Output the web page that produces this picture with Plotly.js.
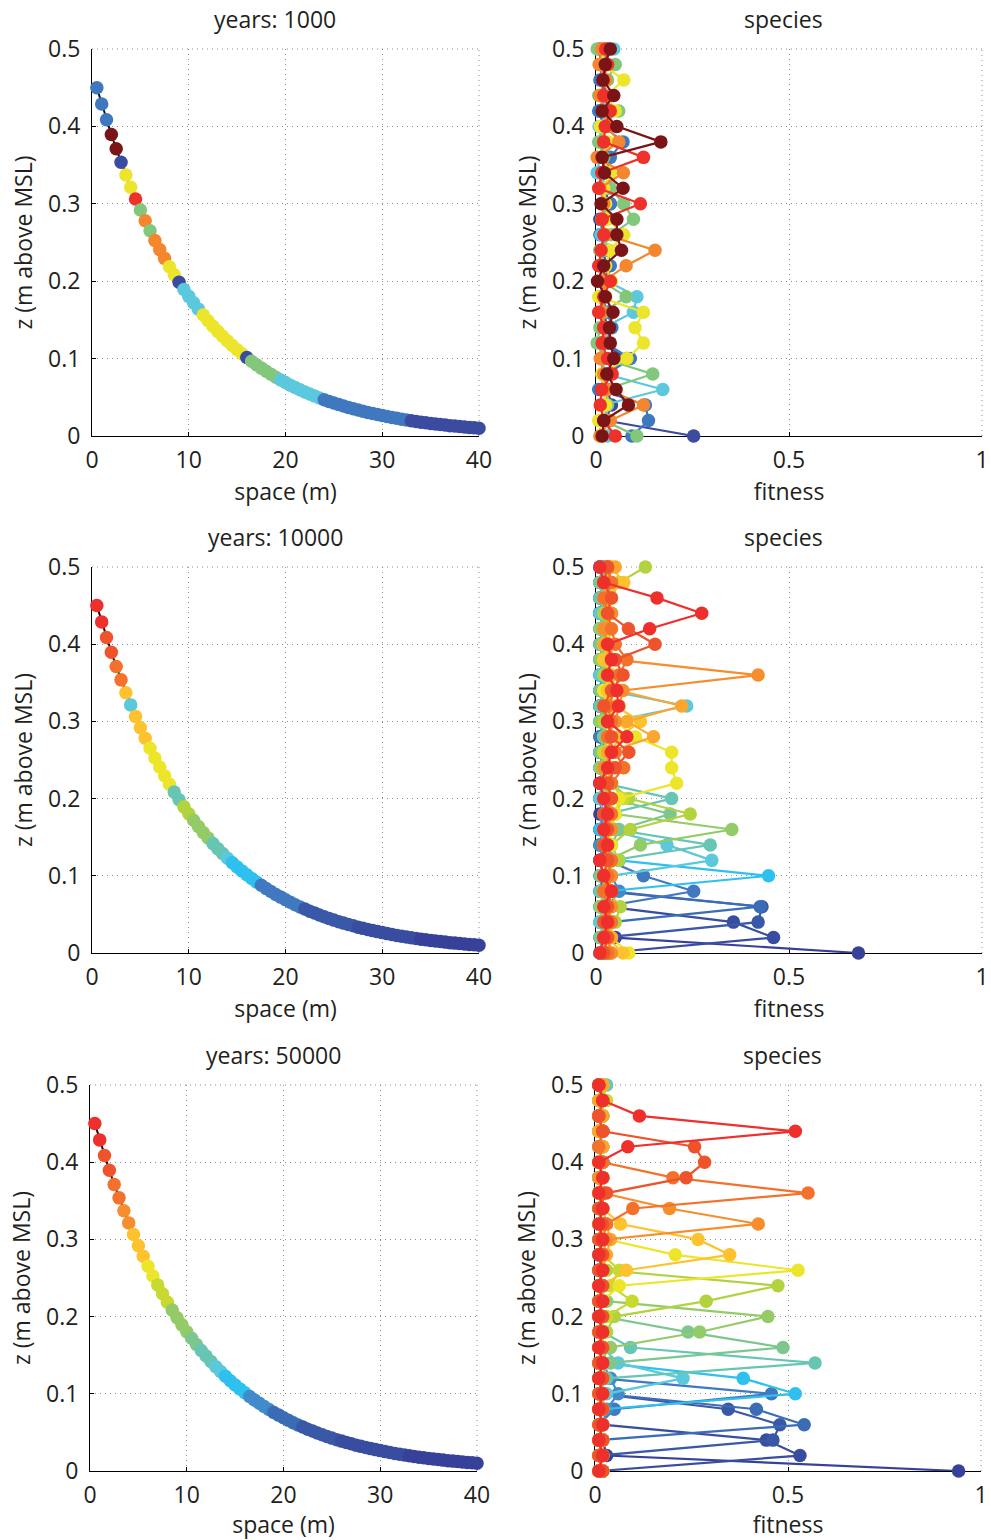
<!DOCTYPE html>
<html>
<head>
<meta charset="utf-8">
<script src="https://cdn.plot.ly/plotly-3.0.1.min.js"></script>
<style>html,body{margin:0;padding:0;background:#fff}#chart{width:991px;height:1540px}</style>
</head>
<body>
<div id="chart"></div>
<script>
// ---------- data ----------
const zLevels = [0,0.02,0.04,0.06,0.08,0.1,0.12,0.14,0.16,0.18,0.2,0.22,0.24,0.26,0.28,0.3,0.32,0.34,0.36,0.38,0.4,0.42,0.44,0.46,0.48,0.5];

const space = [0.5,1,1.5,2,2.5,3,3.5,4,4.5,5,5.5,6,6.5,7,7.5,8,8.5,9,9.5,10,
10.5,11,11.5,12,12.5,13,13.5,14,14.5,15,15.5,16,16.5,17,17.5,18,18.5,19,19.5,20,
20.5,21,21.5,22,22.5,23,23.5,24,24.5,25,25.5,26,26.5,27,27.5,28,28.5,29,29.5,30,
30.5,31,31.5,32,32.5,33,33.5,34,34.5,35,35.5,36,36.5,37,37.5,38,38.5,39,39.5,40];

const elevation = [0.4500,0.4289,0.4087,0.3895,0.3712,0.3538,0.3372,0.3214,0.3063,0.2919,
0.2782,0.2651,0.2527,0.2408,0.2295,0.2187,0.2084,0.1986,0.1893,0.1804,
0.1720,0.1639,0.1562,0.1489,0.1419,0.1352,0.1289,0.1228,0.1170,0.1115,
0.1063,0.1013,0.0966,0.0920,0.0877,0.0836,0.0797,0.0759,0.0724,0.0690,
0.0657,0.0626,0.0597,0.0569,0.0542,0.0517,0.0492,0.0469,0.0447,0.0426,
0.0406,0.0387,0.0369,0.0352,0.0335,0.0319,0.0304,0.0290,0.0277,0.0264,
0.0251,0.0239,0.0228,0.0217,0.0207,0.0198,0.0188,0.0179,0.0171,0.0163,
0.0155,0.0148,0.0141,0.0134,0.0128,0.0122,0.0116,0.0111,0.0106,0.0101];

const years = ['1000','10000','50000'];

// dominant species along the transect (index into palette)
const domSpecies1000 = [1,1,1,7,7,0,4,4,6,3,5,3,5,5,5,4,4,0,2,2,2,2,4,4,4,4,4,4,4,4,4,0,3,3,3,3,3,3,
2,2,2,2,2,2,2,2,2,1,1,1,1,1,1,1,1,1,1,1,1,1,1,1,1,1,1,0,0,0,0,0,0,0,0,0,0,0,0,0,0,0];
const domSpecies10000 = [19,19,18,18,17,17,14,7,14,14,14,13,13,13,13,13,8,8,11,11,10,10,10,10,8,8,8,7,
6,6,6,6,6,6,4,4,4,4,4,4,4,4,4,2,2,2,2,2,2,2,2,2,2,2,1,1,1,1,1,1,1,1,1,1,1,1,1,0,0,0,0,0,0,0,0,0,0,0,0,0];
const domSpecies50000 = [19,19,18,18,17,17,16,16,14,14,14,13,13,12,12,12,10,10,10,10,9,9,8,8,8,7,7,
6,6,6,6,6,5,5,5,5,5,3,3,3,3,3,3,2,2,2,2,2,2,2,2,1,1,1,1,1,1,1,1,1,1,1,1,1,1,0,0,0,0,0,0,0,0,0,0,0,0,0,0,0];

const colors8 = ['#3A4BA0','#3F78BF','#5BC8DD','#83C77D','#EDE52B','#F4862E','#EE3129','#7B1416'];
const colors20 = ['#37419A','#394DA0','#3A58A8','#3B6CB6','#4079C0','#418BCB','#2EC0EE','#5BC8DC','#67C6B3','#7DC78F',
'#93CB69','#B3D23F','#C8D92F','#EDE52A','#FDC22D','#FBA72E','#F68E2D','#F3712B','#EF532B','#EE2F2C'];

// fitness of each species at each elevation level (rows = species, columns = zLevels)
const fitness1000 = [
[.253,.025,.040,.030,.020,.080,.015,.030,.020,.010,.037,.030,.015,.020,.010,.037,.020,.010,.030,.015,.025,.010,.020,.015,.012,.010],
[.093,.136,.128,.007,.030,.089,.025,.041,.030,.015,.020,.037,.030,.010,.020,.037,.012,.025,.037,.070,.020,.007,.035,.010,.020,.030],
[.030,.035,.020,.173,.025,.015,.030,.020,.097,.106,.030,.010,.020,.013,.025,.015,.030,.003,.010,.020,.008,.030,.012,.020,.010,.046],
[.106,.020,.030,.025,.147,.020,.003,.010,.020,.078,.015,.020,.010,.040,.097,.072,.037,.030,.020,.007,.015,.059,.007,.030,.050,.003],
[.015,.007,.025,.020,.015,.080,.123,.101,.123,.007,.040,.025,.037,.072,.030,.025,.020,.037,.015,.030,.011,.050,.028,.072,.016,.020],
[.010,.037,.123,.030,.020,.011,.020,.025,.015,.025,.020,.078,.153,.025,.015,.020,.010,.071,.003,.059,.030,.020,.010,.025,.008,.015],
[.050,.020,.011,.015,.042,.030,.016,.020,.007,.020,.037,.007,.013,.020,.016,.115,.007,.015,.123,.020,.024,.037,.020,.018,.030,.025],
[.016,.020,.084,.052,.028,.046,.037,.035,.044,.024,.004,.020,.066,.054,.054,.013,.070,.022,.016,.168,.054,.016,.046,.018,.024,.037]
];

const fitness10000 = [
[.68,.05,.02,.01,.03,.02,.01,.02,.03,.01,.02,.01,.03,.02,.01,.02,.03,.01,.02,.01,.02,.03,.01,.02,.01,.02],
[.02,.46,.356,.03,.01,.02,.03,.01,.02,.02,.01,.03,.02,.01,.02,.03,.01,.02,.01,.03,.02,.01,.02,.03,.02,.01],
[.03,.02,.42,.43,.02,.01,.02,.03,.01,.02,.03,.02,.01,.02,.03,.01,.02,.03,.02,.01,.02,.03,.01,.02,.03,.01],
[.01,.03,.04,.425,.04,.02,.01,.02,.03,.02,.01,.02,.03,.01,.02,.02,.03,.01,.02,.03,.01,.02,.02,.01,.03,.02],
[.02,.01,.03,.02,.253,.123,.03,.02,.01,.02,.03,.01,.02,.03,.01,.02,.01,.03,.02,.01,.03,.02,.01,.02,.01,.03],
[.03,.02,.01,.03,.06,.04,.02,.01,.03,.02,.01,.03,.02,.01,.03,.02,.01,.02,.03,.02,.01,.02,.03,.01,.02,.02],
[.01,.02,.03,.01,.03,.447,.06,.02,.01,.03,.02,.02,.01,.03,.02,.01,.03,.02,.01,.02,.03,.01,.02,.03,.02,.01],
[.02,.03,.01,.02,.02,.04,.30,.184,.03,.02,.01,.03,.02,.02,.03,.04,.235,.03,.01,.02,.02,.03,.01,.02,.01,.03],
[.01,.02,.02,.03,.01,.03,.04,.296,.05,.03,.196,.02,.01,.03,.02,.02,.01,.03,.02,.01,.03,.02,.02,.01,.03,.02],
[.03,.01,.02,.02,.03,.01,.02,.04,.06,.192,.04,.02,.03,.01,.02,.03,.02,.01,.03,.02,.01,.02,.03,.02,.01,.02],
[.02,.03,.02,.01,.02,.03,.03,.115,.352,.05,.03,.02,.01,.02,.03,.01,.02,.02,.03,.01,.02,.01,.02,.03,.02,.03],
[.04,.03,.05,.063,.03,.02,.059,.04,.089,.244,.085,.04,.03,.02,.03,.02,.03,.04,.02,.03,.02,.03,.02,.04,.06,.128],
[.03,.02,.04,.03,.02,.04,.03,.02,.04,.05,.07,.04,.03,.02,.03,.04,.02,.03,.04,.02,.03,.02,.04,.03,.02,.04],
[.085,.04,.03,.02,.04,.03,.02,.04,.03,.05,.06,.209,.196,.196,.102,.05,.03,.02,.04,.03,.02,.04,.03,.02,.04,.03],
[.07,.03,.02,.04,.03,.02,.04,.03,.02,.03,.04,.03,.02,.04,.06,.115,.05,.03,.04,.02,.03,.04,.03,.02,.072,.04],
[.03,.04,.03,.02,.04,.03,.04,.02,.03,.04,.02,.03,.04,.03,.149,.08,.222,.06,.03,.04,.02,.03,.04,.03,.02,.05],
[.04,.03,.02,.04,.03,.04,.03,.02,.04,.03,.04,.03,.02,.04,.03,.05,.06,.07,.42,.05,.03,.02,.04,.03,.04,.03],
[.03,.02,.04,.03,.02,.03,.04,.03,.02,.04,.03,.04,.072,.05,.03,.04,.03,.05,.06,.08,.05,.04,.03,.02,.04,.03],
[.02,.03,.02,.03,.04,.02,.03,.02,.03,.02,.04,.03,.05,.085,.04,.03,.02,.04,.07,.05,.153,.084,.03,.04,.02,.03],
[.01,.02,.03,.02,.04,.02,.01,.03,.02,.03,.02,.01,.03,.04,.08,.03,.058,.054,.03,.04,.03,.139,.274,.158,.02,.01]
];

const fitness50000 = [
[.942,.03,.02,.01,.02,.01,.02,.01,.02,.01,.02,.01,.02,.01,.02,.01,.02,.01,.02,.01,.02,.01,.02,.01,.02,.01],
[.01,.531,.444,.02,.01,.02,.01,.02,.01,.02,.01,.02,.01,.02,.01,.02,.01,.02,.01,.02,.01,.02,.01,.02,.01,.02],
[.02,.01,.461,.479,.345,.01,.02,.01,.02,.01,.02,.01,.02,.01,.02,.01,.02,.01,.02,.01,.02,.01,.02,.01,.02,.01],
[.01,.02,.01,.542,.418,.02,.01,.02,.01,.02,.01,.02,.01,.02,.01,.02,.01,.02,.01,.02,.01,.02,.01,.02,.01,.02],
[.02,.01,.02,.01,.05,.457,.02,.01,.02,.01,.02,.01,.02,.01,.02,.01,.02,.01,.02,.01,.02,.01,.02,.01,.02,.01],
[.01,.02,.01,.02,.03,.06,.04,.02,.01,.02,.01,.02,.01,.02,.01,.02,.01,.02,.01,.02,.01,.02,.01,.02,.01,.02],
[.02,.01,.02,.01,.02,.519,.384,.02,.01,.02,.01,.02,.01,.02,.01,.02,.01,.02,.01,.02,.01,.02,.01,.02,.01,.02],
[.01,.02,.01,.02,.01,.03,.228,.06,.02,.01,.02,.01,.02,.01,.02,.01,.02,.01,.02,.01,.02,.01,.02,.01,.02,.01],
[.02,.01,.02,.01,.02,.01,.03,.570,.092,.02,.01,.02,.01,.02,.01,.02,.01,.02,.01,.02,.01,.02,.01,.02,.01,.03],
[.01,.02,.01,.02,.01,.02,.01,.04,.487,.241,.02,.01,.02,.01,.02,.01,.02,.01,.02,.01,.02,.01,.02,.01,.02,.01],
[.02,.01,.02,.01,.02,.01,.02,.01,.04,.271,.448,.03,.01,.02,.01,.02,.01,.02,.01,.02,.01,.02,.01,.02,.01,.02],
[.01,.02,.01,.02,.01,.02,.01,.02,.01,.03,.05,.288,.474,.03,.01,.02,.01,.02,.01,.02,.01,.02,.01,.02,.01,.02],
[.02,.01,.02,.01,.02,.01,.02,.01,.02,.01,.03,.096,.04,.063,.02,.01,.02,.01,.02,.01,.02,.01,.02,.01,.03,.02],
[.01,.02,.01,.02,.01,.02,.01,.02,.01,.02,.01,.02,.063,.526,.208,.03,.01,.02,.01,.02,.01,.02,.01,.02,.01,.02],
[.02,.01,.02,.01,.02,.01,.02,.01,.02,.01,.02,.01,.02,.081,.349,.267,.066,.02,.01,.02,.01,.02,.01,.02,.01,.02],
[.01,.02,.01,.02,.01,.02,.01,.02,.01,.02,.01,.02,.01,.02,.03,.04,.03,.02,.01,.02,.01,.02,.01,.02,.01,.02],
[.02,.01,.02,.01,.02,.01,.02,.01,.02,.01,.02,.01,.02,.01,.02,.03,.423,.193,.02,.01,.02,.01,.02,.01,.02,.01],
[.01,.02,.01,.02,.01,.02,.01,.02,.01,.02,.01,.02,.01,.02,.01,.02,.03,.098,.552,.202,.02,.01,.02,.01,.02,.01],
[.02,.01,.02,.01,.02,.01,.02,.01,.02,.01,.02,.01,.02,.01,.02,.01,.02,.01,.03,.236,.284,.258,.02,.01,.02,.01],
[.01,.02,.01,.02,.01,.02,.01,.02,.01,.02,.01,.02,.01,.02,.01,.02,.01,.02,.01,.02,.01,.085,.519,.115,.02,.01]
];

// ---------- figure ----------
const W = 991, H = 1540;
const FONT = 'Open Sans, Lato, sans-serif';
const FS = 23;
const TXT = '#231F20';
const GRID = '#8c8c8c';
const GDASH = '1px,4px';
// plot boxes in pixels [left, right, top, bottom]
const boxes = [
  {L:[92,479], R:[596,982], T:49,  B:436},
  {L:[92,479], R:[596,982], T:567, B:953},
  {L:[90,477], R:[595,981], T:1085,B:1471}
];
const domSpecies = [domSpecies1000, domSpecies10000, domSpecies50000];
const fitness = [fitness1000, fitness10000, fitness50000];
const palettes = [colors8, colors20, colors20];

const traces = [];
const layout = {
  width: W, height: H, margin:{l:0,r:0,t:0,b:0},
  paper_bgcolor:'#fff', plot_bgcolor:'rgba(0,0,0,0)', showlegend:false,
  font:{family:FONT, size:FS, color:TXT},
  annotations: [], shapes: []
};

function axisCommon(){
  return {
    showline:true, linecolor:'#000', linewidth:1, mirror:false,
    ticks:'inside', ticklen:4, tickcolor:'#000', tickwidth:1,
    showgrid:true, gridcolor:GRID, gridwidth:1, griddash:GDASH,
    zeroline:false, automargin:false, fixedrange:true, layer:'below traces',
    ticklabeloverflow:'allow', ticklabelstandoff:3,
    tickfont:{family:FONT, size:FS, color:TXT}
  };
}

for (let r = 0; r < 3; r++) {
  const b = boxes[r];
  const pal = palettes[r];
  const xl = 'x' + (2*r+1), yl = 'y' + (2*r+1);
  const xr = 'x' + (2*r+2), yr = 'y' + (2*r+2);
  const ydom = [1 - b.B/H, 1 - b.T/H];

  // left: profile
  traces.push({x: space, y: elevation, xaxis:xl, yaxis:yl, mode:'lines',
    line:{color:'#111', width:2}, hoverinfo:'skip', cliponaxis:false});
  traces.push({x: space, y: elevation, xaxis:xl, yaxis:yl, mode:'markers',
    marker:{size:13.5, color: domSpecies[r].map(i => pal[i]), line:{width:0}}, cliponaxis:false});

  // right: species fitness
  fitness[r].forEach((f, s) => {
    traces.push({x: f, y: zLevels, xaxis:xr, yaxis:yr, mode:'lines+markers',
      line:{color:pal[s], width:2.2}, marker:{size:13.5, color:pal[s], line:{width:0}}, cliponaxis:false});
  });

  const kx = 'xaxis' + (2*r+1), ky = 'yaxis' + (2*r+1);
  const kx2 = 'xaxis' + (2*r+2), ky2 = 'yaxis' + (2*r+2);
  layout[kx] = Object.assign(axisCommon(), {domain:[b.L[0]/W, b.L[1]/W], anchor:yl, range:[0,40],
    tickvals:[0,10,20,30,40], ticktext:['0','10','20','30','40'],
    title:{text:'space (m)', standoff:0, font:{size:FS}}});
  layout[ky] = Object.assign(axisCommon(), {domain:ydom, anchor:xl, range:[0,0.5],
    tickvals:[0,0.1,0.2,0.3,0.4,0.5], ticktext:['0','0.1','0.2','0.3','0.4','0.5'],
    ticklabelstandoff:6,
    title:{text:'z (m above MSL)', standoff:9, font:{size:FS}}});
  layout[kx2] = Object.assign(axisCommon(), {domain:[b.R[0]/W, b.R[1]/W], anchor:yr, range:[0,1],
    tickvals:[0,0.5,1], ticktext:['0','0.5','1'],
    title:{text:'fitness', standoff:0, font:{size:FS}}});
  layout[ky2] = Object.assign(axisCommon(), {domain:ydom, anchor:xr, range:[0,0.5],
    tickvals:[0,0.1,0.2,0.3,0.4,0.5], ticktext:['0','0.1','0.2','0.3','0.4','0.5'],
    ticklabelstandoff:6,
    title:{text:'z (m above MSL)', standoff:9, font:{size:FS}}});

  // dotted grid lines along the open top and right edges
  [[xl,yl],[xr,yr]].forEach(([xa,ya]) => {
    layout.shapes.push({type:'line', xref:xa+' domain', yref:ya+' domain', x0:0, x1:1, y0:1, y1:1,
      line:{color:GRID, width:1, dash:GDASH}, layer:'below'});
    layout.shapes.push({type:'line', xref:xa+' domain', yref:ya+' domain', x0:1, x1:1, y0:0, y1:1,
      line:{color:GRID, width:1, dash:GDASH}, layer:'below'});
  });

  layout.annotations.push({text:'years: ' + years[r], xref:'paper', yref:'paper',
    x:(b.L[0]+b.L[1])/2/W - 10/W, y:1 - (b.T-30)/H, xanchor:'center', yanchor:'middle',
    showarrow:false, font:{family:FONT, size:FS, color:TXT}});
  layout.annotations.push({text:'species', xref:'paper', yref:'paper',
    x:(b.R[0]+b.R[1])/2/W - 6/W, y:1 - (b.T-30)/H, xanchor:'center', yanchor:'middle',
    showarrow:false, font:{family:FONT, size:FS, color:TXT}});
}

Plotly.newPlot('chart', traces, layout, {displayModeBar:false, staticPlot:true});
</script>
</body>
</html>
